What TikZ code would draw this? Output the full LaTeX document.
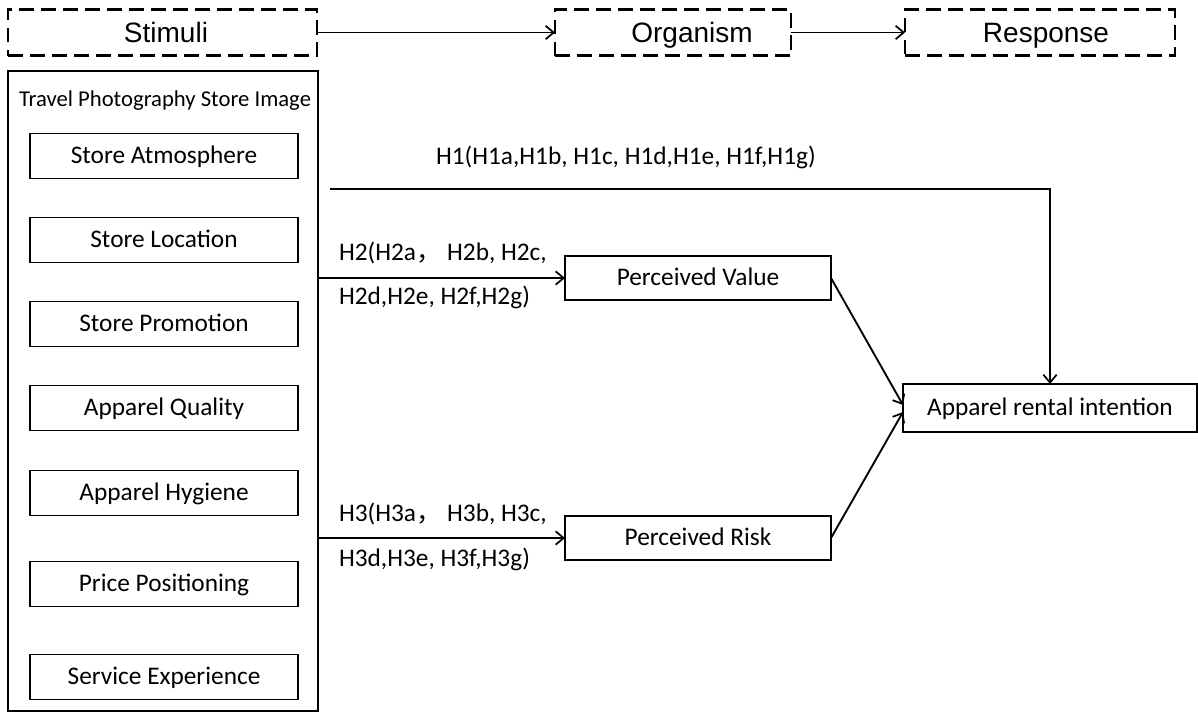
\documentclass[tikz,border=0pt]{standalone}
\usepackage{fontspec}
\setmainfont{Carlito}
\newfontfamily\hdr{Liberation Sans}
\newfontfamily\cjk{Noto Sans CJK SC}
\usetikzlibrary{arrows.meta}
\def\pxu{0.75pt}
\begin{document}
\begin{tikzpicture}[x=0.75pt,y=-0.75pt,
  every node/.style={inner sep=0pt,outer sep=0pt},
  dbox/.style={draw,line width=1.6pt,dash pattern=on 11pt off 5.5pt,minimum height=46*\pxu},
  htxt/.style={font=\hdr\fontsize{21pt}{25pt}\selectfont,anchor=base},
  sbox/.style={draw,line width=1.4pt,font=\fontsize{19pt}{23pt}\selectfont,text height=14pt,text depth=3pt},
  lbl/.style={font=\fontsize{19pt}{23pt}\selectfont,text height=13pt,text depth=4pt},
  arr/.style={line width=1.4pt,-{Straight Barb[length=6pt,width=10pt,line width=1.3pt]}},
  ln/.style={line width=1.4pt}]
\useasboundingbox (0,0) rectangle (1198,715);
% header
\node[dbox,minimum width=309*\pxu] (stim) at (162.5,32.5) {};
\node[dbox,minimum width=236*\pxu] (org) at (673,32.5) {};
\node[dbox,minimum width=270*\pxu] (resp) at (1040,32.5) {};
\node[htxt] (stimt) at (166,42.7) {Stimuli};
\node[htxt] (orgt) at (692,42.7) {Organism};
\node[htxt] (respt) at (1046,42.7) {Response};
\draw[arr] (stim) -- (org);
\draw[arr] (org) -- (resp);
% big box
\node[sbox,minimum width=310*\pxu,minimum height=640*\pxu] (big) at (163,391) {};
\node[font=\fontsize{17pt}{20pt}\selectfont] (title) at (165,101) {Travel Photography Store Image};
\node[sbox,minimum width=268*\pxu,minimum height=45*\pxu] (s1) at (164,156) {Store Atmosphere};
\node[sbox,minimum width=268*\pxu,minimum height=45*\pxu] (s2) at (164,240) {Store Location};
\node[sbox,minimum width=268*\pxu,minimum height=45*\pxu] (s3) at (164,324) {Store Promotion};
\node[sbox,minimum width=268*\pxu,minimum height=45*\pxu] (s4) at (164,408) {Apparel Quality};
\node[sbox,minimum width=268*\pxu,minimum height=45*\pxu] (s5) at (164,493) {Apparel Hygiene};
\node[sbox,minimum width=268*\pxu,minimum height=45*\pxu] (s6) at (164,584) {Price Positioning};
\node[sbox,minimum width=268*\pxu,minimum height=45*\pxu] (s7) at (164,677) {Service Experience};
% organism and response
\node[sbox,minimum width=266*\pxu,minimum height=44*\pxu] (pv) at (698,278) {Perceived Value};
\node[sbox,minimum width=266*\pxu,minimum height=44*\pxu] (pr) at (698,538) {Perceived Risk};
\node[sbox,minimum width=294*\pxu,minimum height=48*\pxu] (ari) at (1050,408) {Apparel rental intention};
% H1
\coordinate (h1s) at (330,189);
\draw[arr] (h1s) -| (ari.north);
\node[lbl,anchor=west] (h1) at (436,158) {H1(H1a,H1b, H1c, H1d,H1e, H1f,H1g)};
% H2
\draw[arr] (big.east |- pv) -- (pv.west);
\node[lbl,anchor=west] (h2a) at (339,254) {H2(H2a{\cjk ，} H2b, H2c,};
\node[lbl,anchor=west] (h2b) at (339,298) {H2d,H2e, H2f,H2g)};
% H3
\draw[arr] (big.east |- pr) -- (pr.west);
\node[lbl,anchor=west] (h3a) at (339,515) {H3(H3a{\cjk ，} H3b, H3c,};
\node[lbl,anchor=west] (h3b) at (339,560) {H3d,H3e, H3f,H3g)};
% to ARI
\draw[arr] (pv.east) -- ([yshift=2.25pt]ari.west);
\draw[arr] (pr.east) -- ([yshift=-3pt]ari.west);
\end{tikzpicture}
\end{document}
